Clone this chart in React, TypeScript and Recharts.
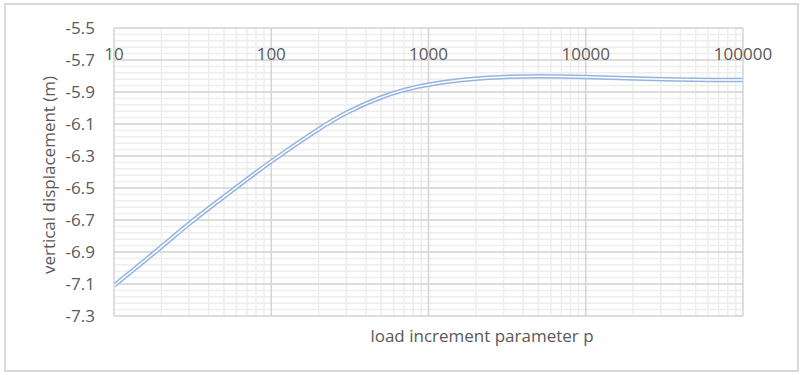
import { CartesianGrid, Line, LineChart, XAxis, YAxis } from "recharts";

// load increment parameter p (log axis)
const P_VALUES = [
  10, 20, 30, 50, 100, 200, 300, 500, 700, 1000, 2000, 3000, 5000, 10000,
  20000, 50000, 100000,
];
// vertical displacement (m)
const DISPLACEMENT = [
  -7.11, -6.87, -6.72, -6.555, -6.33, -6.13, -6.025, -5.93, -5.885, -5.85,
  -5.815, -5.805, -5.8, -5.805, -5.815, -5.825, -5.825,
];

const X_TICKS = [10, 100, 1000, 10000, 100000];
const Y_TICKS = [-5.5, -5.7, -5.9, -6.1, -6.3, -6.5, -6.7, -6.9, -7.1, -7.3];
const X_DOMAIN = [10, 100000];
const Y_DOMAIN = [-7.3, -5.5];

const X_MINOR: number[] = [];
X_TICKS.slice(0, -1).forEach((d) => {
  for (let k = 2; k <= 9; k++) X_MINOR.push(d * k);
});
const Y_MINOR: number[] = [];
for (let i = 0; i <= 45; i++) Y_MINOR.push(Math.round((-7.3 + i * 0.04) * 100) / 100);

const data = P_VALUES.map((p, i) => ({ p, y: DISPLACEMENT[i] }));

const FONT = "'Open Sans', sans-serif";
const TEXT = "#595959";
const PLOT_TOP = 28;

function TopTick({ x, payload }: any) {
  return (
    <text
      x={x}
      y={PLOT_TOP + 25}
      textAnchor="middle"
      dominantBaseline="central"
      fill={TEXT}
      fontSize={17}
      fontFamily={FONT}
    >
      {payload.value}
    </text>
  );
}

export default function App() {
  return (
    <div style={{ position: "absolute", left: 0, top: 0, width: 800, height: 375, background: "#fff" }}>
      <div
        style={{
          position: "absolute",
          left: 4,
          top: 3,
          width: 791,
          height: 365,
          border: "2px solid #D9D9D9",
        }}
      />
      <div style={{ position: "absolute", left: 0, top: 0 }}>
        <LineChart
          width={800}
          height={375}
          data={data}
          margin={{ top: PLOT_TOP - 1, right: 57, left: 54, bottom: 59 }}
        >
          <CartesianGrid
            stroke="#EDEDED"
            strokeWidth={1.5}
            horizontalValues={Y_MINOR}
            verticalValues={X_MINOR}
          />
          <CartesianGrid
            stroke="#D4D4D4"
            strokeWidth={1.5}
            horizontalValues={Y_TICKS}
            verticalValues={X_TICKS}
          />
          <XAxis
            dataKey="p"
            type="number"
            scale="log"
            domain={X_DOMAIN}
            ticks={X_TICKS}
            interval={0}
            orientation="top"
            height={1}
            axisLine={false}
            tickLine={false}
            tick={<TopTick />}
            allowDataOverflow
          />
          <YAxis
            type="number"
            domain={Y_DOMAIN}
            ticks={Y_TICKS}
            interval={0}
            width={60}
            axisLine={false}
            tickLine={false}
            tickSize={0}
            tickMargin={19}
            tick={{ fill: TEXT, fontSize: 17, fontFamily: FONT }}
            allowDataOverflow
          />
          <Line
            type="basis"
            dataKey="y"
            stroke="#93B4E2"
            strokeWidth={4.5}
            dot={false}
            isAnimationActive={false}
          />
          <Line
            type="basis"
            dataKey="y"
            stroke="#ffffff"
            strokeWidth={1.5}
            dot={false}
            isAnimationActive={false}
          />
        </LineChart>
      </div>
      <div
        style={{
          position: "absolute",
          left: 482,
          top: 335,
          transform: "translate(-50%, -50%)",
          whiteSpace: "nowrap",
          color: TEXT,
          fontSize: 17,
          fontFamily: FONT,
        }}
      >
        load increment parameter p
      </div>
      <div
        style={{
          position: "absolute",
          left: 48,
          top: 175,
          transform: "translate(-50%, -50%) rotate(-90deg)",
          whiteSpace: "nowrap",
          color: TEXT,
          fontSize: 17,
          fontFamily: FONT,
        }}
      >
        vertical displacement (m)
      </div>
    </div>
  );
}
